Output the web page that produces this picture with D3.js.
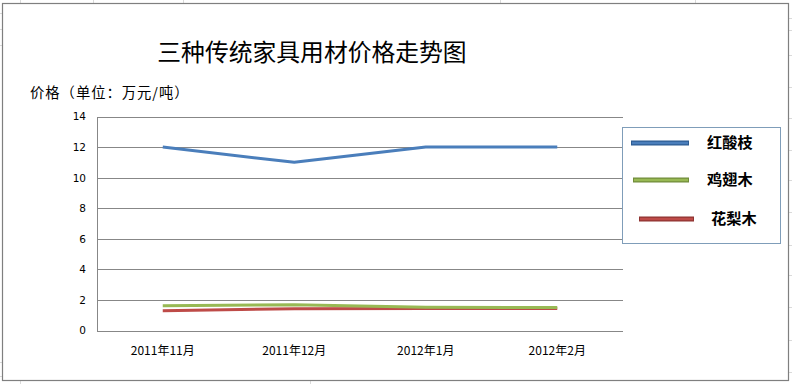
<!DOCTYPE html>
<html><head><meta charset="utf-8">
<script src="https://cdn.jsdelivr.net/npm/d3@7"></script>
<style>body{margin:0;background:#fff}svg{display:block}</style>
</head><body>
<script>
const categories = ["2011年11月","2011年12月","2012年1月","2012年2月"];
const seriesNames = ["红酸枝","鸡翅木","花梨木"];
const hongsuanzhi = [12, 11, 12, 12];
const jichimu = [1.62, 1.68, 1.52, 1.5];
const hualimu = [1.3, 1.43, 1.44, 1.44];
const yTicks = [0,2,4,6,8,10,12,14];
const colors = ["#4A7EBB","#98B954","#BE4B48"];
const darkColors = ["#2C5C93","#718C3A","#8E3331"];
const title = "三种传统家具用材价格走势图";
const yLabel = "价格（单位：万元/吨）";

const W = 792, H = 384;
const svg = d3.select("body").append("svg").attr("width", W).attr("height", H);
const font = "'Noto Sans CJK SC','DejaVu Sans',sans-serif";

// faint spreadsheet grid outside frame
const g0 = svg.append("g").attr("stroke","#dadada").attr("stroke-width",1);
[20, 93, 183, 500, 695, 1000].forEach(x => g0.append("line").attr("x1",x+0.5).attr("x2",x+0.5).attr("y1",0).attr("y2",3));
[13, 29, 45].forEach(y => g0.append("line").attr("x1",0).attr("x2",2).attr("y1",y+0.5).attr("y2",y+0.5));
[362, 376].forEach(y => g0.append("line").attr("x1",0).attr("x2",2).attr("y1",y+0.5).attr("y2",y+0.5));
[20, 310].forEach(x => g0.append("line").attr("x1",x+0.5).attr("x2",x+0.5).attr("y1",381).attr("y2",384));
[18, 30, 55, 87, 118, 150, 180, 212, 245, 275, 307, 340, 372].forEach(y => g0.append("line").attr("x1",789).attr("x2",792).attr("y1",y+0.5).attr("y2",y+0.5));

// chart frame
svg.append("rect").attr("x",2.5).attr("y",3.5).attr("width",786).attr("height",377)
  .attr("fill","#fff").attr("stroke","#7f7f7f").attr("stroke-width",1.2);

const plot = {left: 97, right: 623, top: 116.5, bottom: 330.5};
const x = d3.scaleBand().domain(categories).range([plot.left, plot.right]);
const y = d3.scaleLinear().domain([0,14]).range([plot.bottom, plot.top]);

// gridlines
svg.append("g").selectAll("line").data(yTicks).join("line")
  .attr("x1", plot.left).attr("x2", plot.right)
  .attr("y1", d => Math.round(y(d))+0.5).attr("y2", d => Math.round(y(d))+0.5)
  .attr("stroke","#878787").attr("stroke-width",1);
// y axis line
svg.append("line").attr("x1",plot.left+0.5).attr("x2",plot.left+0.5)
  .attr("y1",Math.round(y(14))+0.5).attr("y2",Math.round(y(0))+0.5).attr("stroke","#878787");

// y tick labels
const yAxis = d3.axisLeft(y).tickValues(yTicks).tickSize(0).tickPadding(11);
const ya = svg.append("g").attr("transform",`translate(${plot.left},0)`).call(yAxis);
ya.select(".domain").remove();
ya.selectAll("text").attr("font-family","'DejaVu Sans',sans-serif").attr("font-size",10.5).attr("fill","#000");

// x tick labels
const xAxis = d3.axisBottom(x).tickSize(0).tickPadding(16);
const xa = svg.append("g").attr("transform",`translate(0,${plot.bottom})`).call(xAxis);
xa.select(".domain").remove();
xa.selectAll("text").attr("font-family",font).attr("font-size",12).attr("fill","#000");

// lines
const data = [hongsuanzhi, jichimu, hualimu];
const line = d3.line().x((d,i) => x(categories[i]) + x.bandwidth()/2).y(d => y(d));
[2,1,0].forEach(k => {
  svg.append("path").datum(data[k]).attr("d", line).attr("fill","none")
    .attr("stroke", colors[k]).attr("stroke-width",3).attr("stroke-linejoin","round");
});

// title
svg.append("text").attr("x",312).attr("y",61).attr("text-anchor","middle")
  .attr("font-family",font).attr("font-size",23.8).attr("fill","#000").text(title);
svg.append("text").attr("x",30).attr("y",98).attr("letter-spacing",1)
  .attr("font-family",font).attr("font-size",14.3).attr("fill","#000").text(yLabel);

// legend
svg.append("rect").attr("x",622.5).attr("y",127.5).attr("width",158).attr("height",116)
  .attr("fill","#fff").attr("stroke","#7F9DB9").attr("stroke-width",1);
const legItems = [
  {x1:631, x2:689, ly:143, tx:707},
  {x1:633, x2:689, ly:180, tx:707},
  {x1:639, x2:694, ly:219, tx:711}
];
legItems.forEach((it,k) => {
  svg.append("line").attr("x1",it.x1).attr("x2",it.x2).attr("y1",it.ly).attr("y2",it.ly)
    .attr("stroke",darkColors[k]).attr("stroke-width",5);
  svg.append("line").attr("x1",it.x1+1).attr("x2",it.x2-1).attr("y1",it.ly).attr("y2",it.ly)
    .attr("stroke",colors[k]).attr("stroke-width",2.5);
  svg.append("text").attr("x",it.tx).attr("y",it.ly+5).attr("font-family",font)
    .attr("font-size",15.2).attr("font-weight","bold").attr("fill","#000").text(seriesNames[k]);
});
</script>
</body></html>
